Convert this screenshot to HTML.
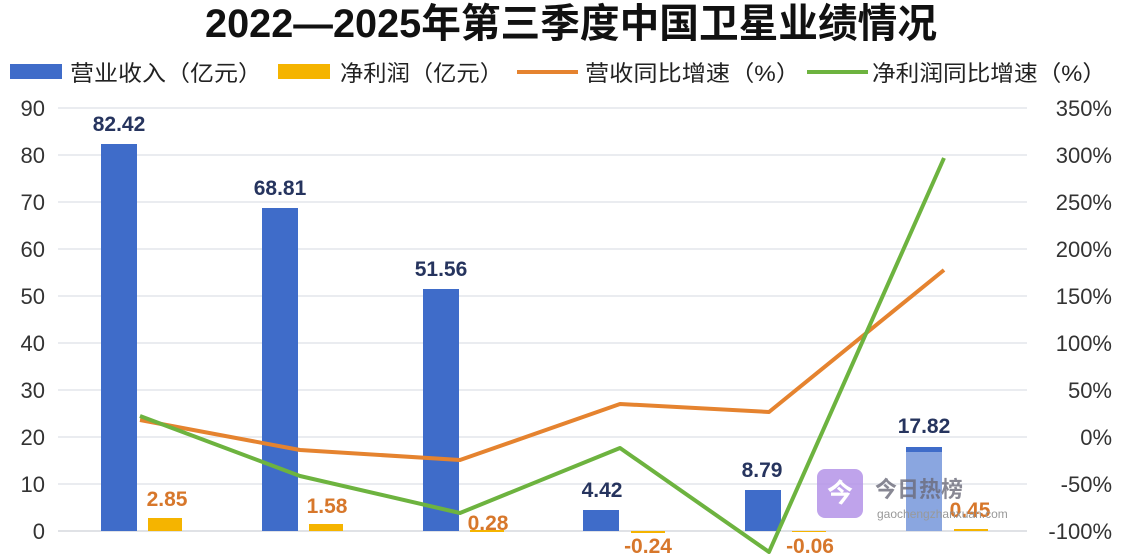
<!DOCTYPE html>
<html><head><meta charset="utf-8"><style>
body{margin:0;background:#fff;width:1121px;height:554px;overflow:hidden}
svg text{font-family:"Liberation Sans","Noto Sans CJK SC",sans-serif}
</style></head><body>
<svg width="1121" height="554" viewBox="0 0 1121 554">
<text x="571" y="37" text-anchor="middle" font-size="40" font-weight="bold" fill="#111" textLength="732" lengthAdjust="spacingAndGlyphs">2022—2025年第三季度中国卫星业绩情况</text>
<!-- legend -->
<rect x="10" y="64" width="52" height="15" fill="#3f6cc9"/>
<text x="70" y="81" font-size="22" fill="#222" textLength="192" lengthAdjust="spacingAndGlyphs">营业收入（亿元）</text>
<rect x="278" y="64" width="52" height="15" fill="#f5b400"/>
<text x="340" y="81" font-size="22" fill="#222" textLength="163" lengthAdjust="spacingAndGlyphs">净利润（亿元）</text>
<rect x="517" y="70" width="61" height="4" fill="#e5832f"/>
<text x="585" y="81" font-size="22" fill="#222" textLength="215" lengthAdjust="spacingAndGlyphs">营收同比增速（%）</text>
<rect x="807" y="70" width="61" height="4" fill="#6db33f"/>
<text x="872" y="81" font-size="22" fill="#222" textLength="234" lengthAdjust="spacingAndGlyphs">净利润同比增速（%）</text>
<!-- grid -->
<g stroke="#e3e6ec" stroke-width="1.5">
<line x1="58" x2="1027" y1="108" y2="108"/><line x1="58" x2="1027" y1="155" y2="155"/>
<line x1="58" x2="1027" y1="202" y2="202"/><line x1="58" x2="1027" y1="249" y2="249"/>
<line x1="58" x2="1027" y1="296" y2="296"/><line x1="58" x2="1027" y1="343" y2="343"/>
<line x1="58" x2="1027" y1="390" y2="390"/><line x1="58" x2="1027" y1="437" y2="437"/>
<line x1="58" x2="1027" y1="484" y2="484"/><line x1="58" x2="1027" y1="531" y2="531" stroke="#d5d8de"/>
</g>
<g font-size="22" fill="#333" text-anchor="end">
<text x="45" y="116">90</text><text x="45" y="163">80</text><text x="45" y="210">70</text><text x="45" y="257">60</text><text x="45" y="304">50</text><text x="45" y="351">40</text><text x="45" y="398">30</text><text x="45" y="445">20</text><text x="45" y="492">10</text><text x="45" y="539">0</text>
</g>
<g font-size="22" fill="#333" text-anchor="end">
<text x="1112" y="116">350%</text><text x="1112" y="163">300%</text><text x="1112" y="210">250%</text><text x="1112" y="257">200%</text><text x="1112" y="304">150%</text><text x="1112" y="351">100%</text><text x="1112" y="398">50%</text><text x="1112" y="445">0%</text><text x="1112" y="492">-50%</text><text x="1112" y="539">-100%</text>
</g>
<!-- bars -->
<g fill="#3f6cc9">
<rect x="101" y="144" width="36" height="387"/>
<rect x="262" y="208" width="36" height="323"/>
<rect x="423" y="289" width="36" height="242"/>
<rect x="583" y="510" width="36" height="21"/>
<rect x="745" y="490" width="36" height="41"/>
<rect x="906" y="447" width="36" height="84" fill="#8aa6e0"/>
<rect x="906" y="447" width="36" height="5"/>
</g>
<g fill="#f5b400">
<rect x="148" y="518" width="34" height="13"/>
<rect x="309" y="524" width="34" height="7"/>
<rect x="470" y="530" width="34" height="2"/>
<rect x="631" y="531" width="34" height="2"/>
<rect x="792" y="531" width="34" height="1"/>
<rect x="954" y="529" width="34" height="2"/>
</g>
<g font-size="21" font-weight="bold" fill="#26345e" text-anchor="middle">
<text x="119" y="131">82.42</text><text x="280" y="195">68.81</text><text x="441" y="276">51.56</text>
<text x="602" y="497">4.42</text><text x="762" y="477">8.79</text><text x="924" y="433">17.82</text>
</g>
<g font-size="21" font-weight="bold" fill="#d7772b" text-anchor="middle">
<text x="167" y="506">2.85</text><text x="327" y="513">1.58</text><text x="488" y="530">0.28</text>
<text x="648" y="553">-0.24</text><text x="810" y="553">-0.06</text><text x="970" y="517">0.45</text>
</g>
<polyline points="140,420 300,450 460,460 620,404 769,412 944,270" fill="none" stroke="#e5832f" stroke-width="4" stroke-linejoin="round"/>
<polyline points="140,416 300,476 460,513 620,448 769,552 944,158" fill="none" stroke="#6db33f" stroke-width="4" stroke-linejoin="round"/>
<!-- watermark -->
<rect x="817" y="469" width="46" height="49" rx="8" fill="#b493e8" opacity="0.85"/>
<text x="840" y="502" font-size="26" fill="#fff" text-anchor="middle" font-weight="bold">今</text>
<text x="875" y="497" font-size="22" fill="#6b6b7a" opacity="0.8" font-weight="bold">今日热榜</text>
<text x="877" y="518" font-size="12" fill="#999">gaochengzhanxuan.com</text>
</svg>
</body></html>
